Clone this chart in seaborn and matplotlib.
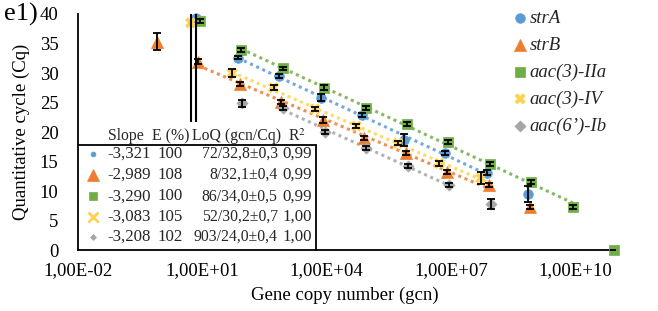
import numpy as np
import pandas as pd
import matplotlib
matplotlib.use("Agg")
import matplotlib.pyplot as plt
import seaborn as sns

# ---------------- data ----------------
names = ["strA", "strB", "aac(3)-IIa", "aac(3)-IV", "aac(6’)-Ib"]
colors = ["#5B9BD5", "#ED7D31", "#70AD47", "#FFD24D", "#A5A5A5"]

strA_x = [7.2, 72, 720, 7.2e3, 7.2e4, 7.2e5, 7.2e6, 7.2e7, 7.2e8]
strA_cq = [39.3, 32.6, 29.5, 25.8, 22.9, 18.6, 16.4, 13.1, 9.5]
strA_sd = [17.6, 0.3, 0.3, 0.6, 0.3, 1.0, 0.3, 0.4, 1.4]

strB_x = [0.8, 8, 80, 800, 8e3, 8e4, 8e5, 8e6, 8e7, 8e8]
strB_cq = [35.3, 31.9, 28.1, 25.1, 22.0, 19.0, 16.4, 13.2, 11.0, 7.3]
strB_sd = [1.4, 0.4, 0.3, 0.3, 0.5, 0.3, 0.3, 0.3, 0.3, 0.4]

iia_x = [8.6, 86, 860, 8.6e3, 8.6e4, 8.6e5, 8.6e6, 8.6e7, 8.6e8, 8.6e9, 8.6e10]
iia_cq = [38.8, 33.9, 30.8, 27.5, 24.1, 21.4, 18.3, 14.6, 11.5, 7.3, 0.0]
iia_sd = [0.3, 0.3, 0.3, 0.4, 0.3, 0.3, 0.3, 0.3, 0.3, 0.3, 0.0]

iv_x = [5.2, 52, 520, 5.2e3, 5.2e4, 5.2e5, 5.2e6, 5.2e7]
iv_cq = [38.5, 30.0, 27.5, 23.9, 21.0, 18.1, 14.7, 12.2]
iv_sd = [16.8, 0.7, 0.4, 0.3, 0.3, 0.3, 0.4, 1.0]

ib_x = [90.3, 903, 9.03e3, 9.03e4, 9.03e5, 9.03e6, 9.03e7]
ib_cq = [24.9, 24.1, 20.0, 17.3, 14.2, 11.0, 7.8]
ib_sd = [0.6, 0.3, 0.3, 0.3, 0.3, 0.4, 0.85]

# linear range (first, last index) used for the trend lines
fit_ranges = [(1, 7), (1, 8), (1, 9), (1, 7), (1, 5)]

slopes = ["-3,321", "-2,989", "-3,290", "-3,083", "-3,208"]
effs = ["100", "108", "100", "105", "102"]
loqs = ["72/32,8±0,3", "8/32,1±0,4", "86/34,0±0,5", "52/30,2±0,7", "903/24,0±0,4"]
r2s = ["0,99", "0,99", "0,99", "1,00", "1,00"]

xticks = [1e-2, 1e1, 1e4, 1e7, 1e10]
xticklabels = ["1,00E-02", "1,00E+01", "1,00E+04", "1,00E+07", "1,00E+10"]
yticks = [0, 5, 10, 15, 20, 25, 30, 35, 40]

series = [(strA_x, strA_cq, strA_sd), (strB_x, strB_cq, strB_sd),
          (iia_x, iia_cq, iia_sd), (iv_x, iv_cq, iv_sd), (ib_x, ib_cq, ib_sd)]

markers = ["o", "^", "s", "X", "D"]
sizes = [48, 75, 55, 65, 32]
tab_marker_sizes = [3.5, 8, 5.5, 7, 3]

# ---------------- style ----------------
sns.set_theme(style="white")
plt.rcParams['font.family'] = ['Liberation Serif', 'DejaVu Serif']
plt.rcParams['mathtext.fontset'] = 'stix'

fig = plt.figure(figsize=(6.58, 3.11), dpi=100)
ax = fig.add_axes([0.1185, 0.196, 0.8161, 0.759])

for i, (x, cq, sd) in enumerate(series):
    x = np.array(x, dtype=float)
    cq = np.array(cq, dtype=float)
    a, b = fit_ranges[i]
    lx = np.log10(x[a:b + 1])
    fit = np.polyfit(lx, cq[a:b + 1], 1)
    xs = np.array([x[a], x[b]])
    ax.plot(xs, np.polyval(fit, np.log10(xs)), linestyle=(0, (1, 1.2)),
            lw=2.2, color=colors[i], zorder=1, alpha=0.85)

for i, (x, cq, sd) in enumerate(series):
    df = pd.DataFrame({"gcn": x, "cq": cq})
    kw = dict(edgecolor=colors[i], linewidth=0.5)
    if markers[i] == "X":
        kw = dict(edgecolor="none", linewidth=0)
    sns.scatterplot(data=df, x="gcn", y="cq", marker=markers[i], s=sizes[i],
                    color=colors[i], ax=ax, label=names[i], zorder=3,
                    clip_on=False, **kw)
    x = np.array(x, dtype=float)
    cq = np.array(cq, dtype=float)
    sd = np.array(sd, dtype=float)
    small = sd < 5
    ax.errorbar(x[small], cq[small], yerr=sd[small], fmt="none", ecolor="black",
                elinewidth=1.3, capsize=3, capthick=1.3, zorder=4)
    if (~small).any():
        ax.errorbar(x[~small], cq[~small], yerr=sd[~small], fmt="none",
                    ecolor="black", elinewidth=1.5, capsize=0, zorder=4)

ax.set_xscale("log")
ax.set_xlim(1e-2, 10 ** 10.95)
ax.set_ylim(0, 40)
ax.set_xticks(xticks)
ax.set_xticklabels(xticklabels)
ax.xaxis.set_minor_locator(matplotlib.ticker.NullLocator())
ax.set_yticks(yticks)
ax.tick_params(axis="both", length=0, labelsize=13.5, colors="black")
ax.tick_params(axis="y", pad=14)
ax.tick_params(axis="x", pad=9)
for s in ["top", "right"]:
    ax.spines[s].set_visible(False)
for s in ["left", "bottom"]:
    ax.spines[s].set_color("black")
    ax.spines[s].set_linewidth(1.3)

ax.set_xlabel("Gene copy number (gcn)", fontsize=13.5, color="black")
ax.set_ylabel("Quantitative cycle (Cq)", fontsize=13.5, color="black")
ax.yaxis.set_label_coords(-0.09, 0.5)
ax.xaxis.set_label_coords(0.497, -0.155)

fig.text(0.006, 0.952, "e1)", fontsize=19, va="center", ha="left", color="black")

# legend
leg = ax.legend(loc="upper left", bbox_to_anchor=(0.792, 1.05), frameon=False,
                prop={"style": "italic", "size": 13.5}, handletextpad=0.0,
                labelspacing=0.52, borderaxespad=0, handlelength=1.0)

# ---------------- table ----------------
T = ax.transAxes
ax.plot([0.0, 0.443], [0.445, 0.445], transform=T, color="black", lw=1.3, zorder=5, clip_on=False)
ax.plot([0.443, 0.443], [0.0, 0.445], transform=T, color="black", lw=1.3, zorder=5, clip_on=False)
hdr_y = 0.482
hfs = 11.3
ax.text(0.056, hdr_y, "Slope", transform=T, fontsize=hfs, va="center", ha="left")
ax.text(0.138, hdr_y, "E (%)", transform=T, fontsize=hfs, va="center", ha="left")
ax.text(0.212, hdr_y, "LoQ (gcn/Cq)", transform=T, fontsize=hfs, va="center", ha="left")
ax.text(0.391, hdr_y, "R$^2$", transform=T, fontsize=hfs, va="center", ha="left")
row_y = [0.408, 0.318, 0.228, 0.140, 0.055]
tfs = 12.2
for i in range(5):
    y = row_y[i]
    mk = "x" if markers[i] == "X" else markers[i]
    ax.plot([0.028], [y], transform=T, marker=mk, color=colors[i],
            markersize=tab_marker_sizes[i], markeredgewidth=2 if mk == "x" else 0.5,
            linestyle="none", clip_on=False, zorder=5)
    ax.text(0.054, y, slopes[i], transform=T, fontsize=tfs, va="center", ha="left")
    ax.text(0.149, y, effs[i], transform=T, fontsize=tfs, va="center", ha="left")
    ax.text(0.372, y, loqs[i], transform=T, fontsize=11.3, va="center", ha="right")
    ax.text(0.381, y, r2s[i], transform=T, fontsize=tfs, va="center", ha="left")

fig.savefig("out.png", dpi=100)
